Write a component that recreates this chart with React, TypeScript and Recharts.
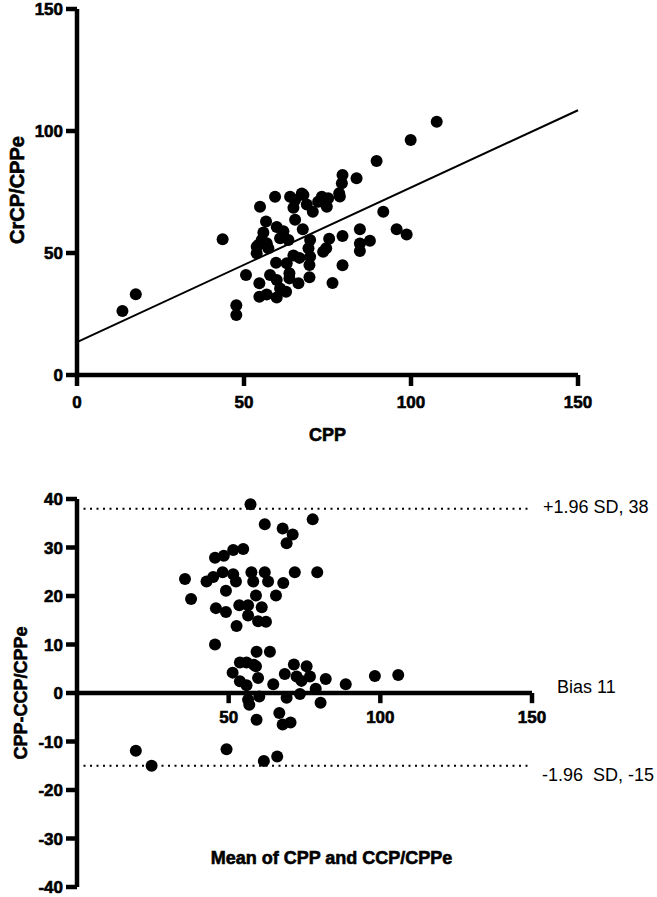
import React from 'react';
import {
  ScatterChart, Scatter, XAxis, YAxis, ReferenceLine, ReferenceDot, Label,
} from 'recharts';

// ---------- Top panel: CrCP/CPPe vs CPP ----------
const topCPP = [
  13.6, 17.6, 43.6, 47.7, 47.7,
  50.6, 53.8, 53.8, 54.3, 54.6, 54.6, 54.8, 55.3, 55.8, 56.6, 56.8, 56.8, 57.3, 57.8,
  59.3, 59.6, 59.8, 59.8, 59.8, 60.8, 60.8, 61.8, 62.6, 62.8, 63.3, 63.6, 63.6,
  63.8, 64.8, 64.8, 65.3, 65.3, 66.3, 66.6, 67.3, 67.6, 67.8, 68.8, 69.3, 69.6, 69.6, 69.8, 69.8, 70.6,
  72.2, 73.3, 73.7, 74.3, 74.6, 74.8, 75.5, 75.2, 76.5, 78.5, 78.7, 79.3, 79.5, 79.5, 79.5,
  83.7, 84.7, 84.7, 84.7, 87.7, 89.7, 91.7, 95.7, 98.7, 99.9, 107.7,
];
const topCrCP = [
  26.2, 33.1, 55.6, 28.6, 24.6,
  41, 49.9, 52.6, 53.3, 37.6, 32.1, 69, 55.3, 58.4, 62.9, 33, 54, 51.9, 41,
  73.1, 46, 60.7, 38.9, 31.8, 56, 35.5, 58.9, 34.1, 45.8, 55.3, 41.7, 39.6,
  73.1, 68.5, 49, 71.7, 63.6, 37.6, 48, 74.4, 59.7, 73.8, 69.9, 51.9, 45.1, 40.1, 55.3, 48.5, 66.9,
  71, 73.1, 50.5, 70.4, 51.9, 69, 55.8, 72.4, 37.7, 74.5, 73.2, 78.6, 82, 57, 45,
  80.6, 59.7, 53.9, 50.8, 55, 87.7, 66.9, 59.7, 57.6, 96.3, 103.8,
];
const fitLine = [
  { x: 0, y: 13.5 },
  { x: 150, y: 108.5 },
];
const topXTicks = [0, 50, 100, 150];
const topYTicks = [0, 50, 100, 150];

// ---------- Bottom panel: Bland-Altman ----------
const meanVals = [
  57.2, 61.9, 67.8, 71.1, 69.1, 77.7,
  45.5, 48.4, 51.5, 54.8,
  35.6, 37.6, 42.7, 44.9, 48, 51.5, 52.4, 49.1,
  45.8, 49.1, 52.6, 45.5,
  53.5, 56.4, 59, 60.9, 56.4, 59.7, 62.3,
  57.5, 58.1, 61.9, 63, 65.6, 68, 71.8, 79.2,
  59.2, 63.6,
  51.3, 53.7, 55.9, 58.3, 59,
  53.7, 55.9, 59.7,
  56.4, 56.8, 60.1, 59.2,
  64.7, 68.5, 69.1, 66.7, 67.8, 70.4,
  71.5, 75.7, 72.4, 74, 76.8, 73.5, 78.7, 80.3, 82, 88.6, 98.2, 105.9,
  19.4, 24.6, 49.3, 61.6, 66,
];
const diffVals = [
  38.9, 34.8, 33.9, 32.7, 30.9, 35.8,
  27.9, 28.3, 29.5, 29.7,
  23.5, 19.4, 23, 23.9, 24.9, 24.5, 23, 21.1,
  17.5, 16.7, 13.8, 10,
  18.1, 18.1, 20.1, 17.7, 16, 14.8, 14.7,
  24.9, 23, 24.9, 23, 20.1, 22.7, 24.9, 24.9,
  8.5, 8.5,
  4.2, 6.3, 6.3, 5.8, 5.5,
  2.4, 1.6, 3.1,
  -1.4, -2.4, -0.7, -5.5,
  1.8, 3.9, -1, -4.1, -6.5, -6.1,
  5.9, 5.5, 3.4, 2.5, 3.4, -0.2, 0.9, -2, 2.9, 1.8, 3.5, 3.7,
  -11.9, -15, -11.6, -14, -13.1,
];
const upperLimit = 38;
const lowerLimit = -15;
const biasLabel = 'Bias 11';
const upperLabel = '+1.96 SD, 38';
const lowerLabel = '-1.96  SD, -15';
const bottomXTicks = [50, 100, 150];
const bottomYTicks = [-40, -30, -20, -10, 0, 10, 20, 30, 40];

const topData = topCPP.map((x, i) => ({ x, y: topCrCP[i] }));
const bottomData = meanVals.map((x, i) => ({ x, y: diffVals[i] }));

const FONT = '"Liberation Sans", Arial, Helvetica, sans-serif';
const AXIS_W = 4.5;
const axisLineStyle = { stroke: '#000', strokeWidth: AXIS_W };
const heavy = { stroke: '#000', strokeWidth: 0.6 };

const DotShape = (p: any) => <circle cx={p.cx} cy={p.cy} r={6} fill="#000" />;

const YTick = (p: any) => (
  <text x={p.x} y={p.y} dy="0.36em" textAnchor="end" fontSize={17} fontWeight={700}
    fontFamily={FONT} fill="#000" {...heavy}>{p.payload.value}</text>
);
const XTick = (p: any) => (
  <text x={p.x} y={p.y} dy="0.72em" textAnchor="middle" fontSize={17} fontWeight={700}
    fontFamily={FONT} fill="#000" {...heavy}>{p.payload.value}</text>
);

export default function App() {
  return (
    <div style={{ position: 'absolute', left: 0, top: 0, width: 657, height: 897, background: '#fff' }}>
      <div style={{ position: 'absolute', left: 0, top: 0 }}>
        <ScatterChart width={657} height={450} margin={{ top: 9, right: 79, left: 0, bottom: 0 }}>
          <XAxis
            type="number"
            dataKey="x"
            domain={[0, 150]}
            ticks={topXTicks}
            interval={0}
            height={75}
            tickSize={11}
            tickMargin={10}
            axisLine={axisLineStyle}
            tickLine={axisLineStyle}
            tick={<XTick />}
            label={
              <Label
                content={(props: any) => {
                  const vb = props.viewBox;
                  return (
                    <text x={vb.x + vb.width / 2} y={vb.y + 66} textAnchor="middle"
                      fontSize={18} fontWeight="bold" fontFamily={FONT} fill="#000" {...heavy}>CPP</text>
                  );
                }}
              />
            }
          />
          <YAxis
            type="number"
            dataKey="y"
            domain={[0, 150]}
            ticks={topYTicks}
            interval={0}
            width={77}
            tickSize={11}
            tickMargin={3}
            axisLine={axisLineStyle}
            tickLine={axisLineStyle}
            tick={<YTick />}
            label={
              <Label
                content={(props: any) => {
                  const vb = props.viewBox;
                  const cy = vb.y + vb.height / 2 - 2;
                  const bx = vb.x + 24;
                  return (
                    <text x={bx} y={cy} transform={`rotate(-90 ${bx} ${cy})`} textAnchor="middle"
                      fontSize={20} fontWeight="bold" fontFamily={FONT} fill="#000" {...heavy}>CrCP/CPPe</text>
                  );
                }}
              />
            }
          />
          <ReferenceLine segment={fitLine} stroke="#000" strokeWidth={2} ifOverflow="visible" />
          <Scatter data={topData} shape={DotShape} isAnimationActive={false} />
        </ScatterChart>
      </div>

      <div style={{ position: 'absolute', left: 0, top: 450 }}>
        <ScatterChart width={657} height={447} margin={{ top: 49, right: 125, left: 0, bottom: 10 }}>
          <XAxis
            type="number"
            dataKey="x"
            domain={[0, 150]}
            hide
          />
          <YAxis
            type="number"
            dataKey="y"
            domain={[-40, 40]}
            ticks={bottomYTicks}
            interval={0}
            width={77}
            tickSize={11}
            tickMargin={3}
            axisLine={axisLineStyle}
            tickLine={axisLineStyle}
            tick={<YTick />}
            label={
              <Label
                content={(props: any) => {
                  const vb = props.viewBox;
                  const cy = vb.y + vb.height / 2;
                  const bx = vb.x + 27;
                  return (
                    <text x={bx} y={cy} transform={`rotate(-90 ${bx} ${cy})`} textAnchor="middle"
                      fontSize={18} fontWeight="bold" fontFamily={FONT} fill="#000" {...heavy}>CPP-CCP/CPPe</text>
                  );
                }}
              />
            }
          />
          <ReferenceLine
            y={upperLimit}
            stroke="#000"
            strokeWidth={2}
            strokeDasharray="2 4.5"
            label={
              <Label
                content={(props: any) => {
                  const vb = props.viewBox;
                  return (
                    <text x={vb.x + vb.width + 11} y={vb.y + 4.5} fontSize={18} fontFamily={FONT}
                      fill="#000" style={{ whiteSpace: 'pre' }}>{upperLabel}</text>
                  );
                }}
              />
            }
          />
          <ReferenceLine
            y={lowerLimit}
            stroke="#000"
            strokeWidth={2}
            strokeDasharray="2 4.5"
            label={
              <Label
                content={(props: any) => {
                  const vb = props.viewBox;
                  return (
                    <text x={vb.x + vb.width + 10} y={vb.y + 15.5} fontSize={18} fontFamily={FONT}
                      fill="#000" style={{ whiteSpace: 'pre' }}>{lowerLabel}</text>
                  );
                }}
              />
            }
          />
          <ReferenceLine
            y={0}
            stroke="#000"
            strokeWidth={AXIS_W}
            label={
              <Label
                content={(props: any) => {
                  const vb = props.viewBox;
                  return (
                    <text x={vb.x + vb.width + 25} y={vb.y + 0} fontSize={18} fontFamily={FONT}
                      fill="#000">{biasLabel}</text>
                  );
                }}
              />
            }
          />
          <ReferenceLine
            y={-34}
            stroke="none"
            label={
              <Label
                content={(props: any) => {
                  const vb = props.viewBox;
                  return (
                    <text x={vb.x + vb.width / 2 + 27} y={vb.y + 6.5} textAnchor="middle"
                      fontSize={18} fontWeight="bold" fontFamily={FONT} fill="#000" {...heavy}>Mean of CPP and CCP/CPPe</text>
                  );
                }}
              />
            }
          />
          {bottomXTicks.map((t) => (
            <ReferenceLine
              key={`tl${t}`}
              segment={[{ x: t, y: 0 }, { x: t, y: -2.1 }]}
              stroke="#000"
              strokeWidth={AXIS_W}
              ifOverflow="visible"
            />
          ))}
          {bottomXTicks.map((t) => (
            <ReferenceDot
              key={`td${t}`}
              x={t}
              y={-2.1}
              r={0}
              stroke="none"
              fill="none"
              ifOverflow="visible"
              label={
                <Label
                  content={(props: any) => {
                    const vb = props.viewBox;
                    return (
                      <text x={vb.x + vb.width / 2} y={vb.y + 20} textAnchor="middle"
                        fontSize={17} fontWeight={700} fontFamily={FONT} fill="#000" {...heavy}>{t}</text>
                    );
                  }}
                />
              }
            />
          ))}
          <Scatter data={bottomData} shape={DotShape} isAnimationActive={false} />
        </ScatterChart>
      </div>
    </div>
  );
}
